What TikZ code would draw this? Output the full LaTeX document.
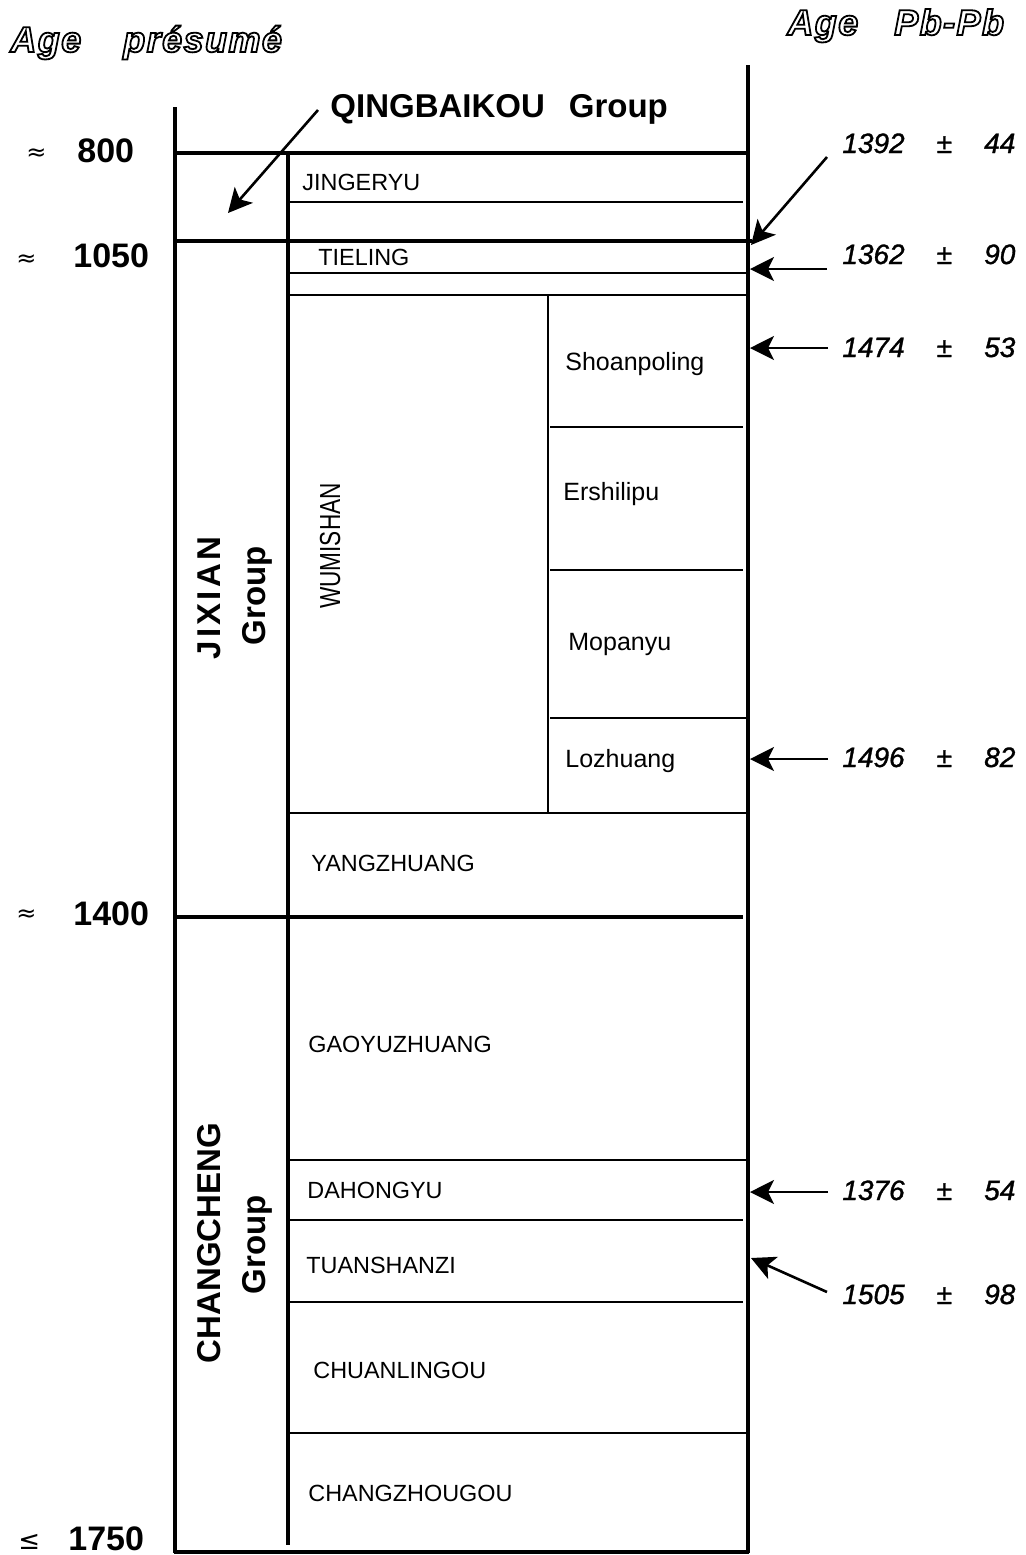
\documentclass[tikz,border=0pt]{standalone}
\usepackage{fontspec}
\setmainfont{Liberation Sans}
\newfontfamily\symfont{DejaVu Sans}
\newfontfamily\numfont{Liberation Sans Italic}[FakeBold=1.2]
\newfontfamily\outfont{Liberation Sans Bold Italic}[FakeBold=5,LetterSpace=4]
\usepackage{graphicx}
\usetikzlibrary{arrows.meta}
\tikzset{
  thickline/.style={line width=2.4pt},
  thinline/.style={line width=1.4pt},
  outerline/.style={line width=2.3pt},
  arr/.style={line width=1.3pt,-{Stealth[length=12pt,width=12pt,inset=3pt]}},
  lbl/.style={inner sep=0pt,anchor=base west,font=\fontsize{11.7}{14}\selectfont},
  lowlbl/.style={inner sep=0pt,anchor=base west,font=\fontsize{12.5}{14}\selectfont},
  agelbl/.style={inner sep=0pt,anchor=base west,font=\fontsize{17}{20}\selectfont\bfseries},
  approxlbl/.style={inner sep=0pt,anchor=base west,font=\fontsize{12}{14}\selectfont\symfont},
  numlbl/.style={inner sep=0pt,anchor=base west,font=\fontsize{14}{16}\selectfont\numfont},
  grplbl/.style={inner sep=0pt,anchor=base,rotate=90,font=\fontsize{16.5}{20}\selectfont\bfseries},
  headlbl/.style={inner sep=0pt,anchor=base west,font=\fontsize{18}{22}\selectfont\outfont},
}
\newcommand{\outl}[1]{\special{pdf:bcolor [1] [0]}#1\special{pdf:ecolor}}
\begin{document}
\begin{tikzpicture}[x=0.5pt,y=-0.5pt]
\useasboundingbox (0,0) rectangle (1025,1555);

% headers
\node[headlbl] (hleft) at (10,52) {\outl{Age\hspace{21pt}présumé}};
\node[headlbl] (hright) at (787,35) {\outl{Age\hspace{18pt}Pb-Pb}};

% frame
\draw[outerline] (175,107) -- (175,1553);
\draw[outerline] (748,65) -- (748,1553);
\draw[outerline] (174,1552) -- (749,1552);
\draw[thinline, line width=1.6pt] (288,153) -- (288,1545);
\draw[thinline, line width=1.1pt] (548,295) -- (548,812);

% thick boundaries
\draw[thickline] (175,153) -- (748,153);
\draw[thickline] (175,241) -- (752,241);
\draw[thickline] (175,917) -- (743,917);

% thin boundaries
\draw[thinline] (290,202) -- (743,202);
\draw[thinline] (288,273) -- (748,273);
\draw[thinline] (288,295) -- (748,295);
\draw[thinline] (550,427) -- (743,427);
\draw[thinline] (550,570) -- (743,570);
\draw[thinline] (550,718) -- (746,718);
\draw[thinline] (288,813) -- (748,813);
\draw[thinline] (288,1160) -- (748,1160);
\draw[thinline] (290,1220) -- (743,1220);
\draw[thinline] (290,1302) -- (743,1302);
\draw[thinline] (288,1433) -- (748,1433);

% ages left
\node[approxlbl] (ap800) at (26,160) {≈};
\node[agelbl] (g800) at (77,162) {800};
\node[approxlbl] (ap1050) at (16,266) {≈};
\node[agelbl] (g1050) at (73,267) {1050};
\node[approxlbl] (ap1400) at (16,921) {≈};
\node[agelbl] (g1400) at (73,925) {1400};
\node[approxlbl, font=\fontsize{13}{14}\selectfont\symfont] (le1750) at (18,1549) {≤};
\node[agelbl] (g1750) at (68,1550) {1750};

% group labels
\node[agelbl, font=\fontsize{16.5}{20}\selectfont\bfseries] (qing) at (330,117) {QINGBAIKOU\hspace{12pt}Group};
\node[grplbl, font=\fontsize{16.5}{20}\selectfont\bfseries\addfontfeatures{LetterSpace=10}] (jix) at (220,598) {JIXIAN};
\node[grplbl] (jixg) at (265,596) {Group};
\node[grplbl] (chc) at (220,1243) {CHANGCHENG};
\node[grplbl] (chcg) at (265,1245) {Group};
\node[inner sep=0pt,anchor=base,rotate=90,font=\fontsize{14.5}{16}\selectfont] (wum) at (340,546) {\scalebox{0.78}[1]{WUMISHAN}};

% formation labels
\node[lbl] (jing) at (302,190) {JINGERYU};
\node[lbl] (tiel) at (318,265) {TIELING};
\node[lowlbl] (shoa) at (565,370) {Shoanpoling};
\node[lowlbl] (ersh) at (563,500) {Ershilipu};
\node[lowlbl] (mopa) at (568,650) {Mopanyu};
\node[lowlbl] (lozh) at (565,767) {Lozhuang};
\node[lbl] (yang) at (311,871) {YANGZHUANG};
\node[lbl] (gaoy) at (308,1052) {GAOYUZHUANG};
\node[lbl] (daho) at (307,1198) {DAHONGYU};
\node[lbl] (tuan) at (306,1273) {TUANSHANZI};
\node[lbl] (chua) at (313,1378) {CHUANLINGOU};
\node[lbl] (chan) at (308,1501) {CHANGZHOUGOU};

% Pb-Pb ages
\node[numlbl] (n1392) at (842,153) {\hbox to 86.5pt{1392\hfil ±\hfil 44}};
\node[numlbl] (n1362) at (842,264) {\hbox to 86.5pt{1362\hfil ±\hfil 90}};
\node[numlbl] (n1474) at (842,357) {\hbox to 86.5pt{1474\hfil ±\hfil 53}};
\node[numlbl] (n1496) at (842,767) {\hbox to 86.5pt{1496\hfil ±\hfil 82}};
\node[numlbl] (n1376) at (842,1200) {\hbox to 86.5pt{1376\hfil ±\hfil 54}};
\node[numlbl] (n1505) at (842,1304) {\hbox to 86.5pt{1505\hfil ±\hfil 98}};

% arrows
\coordinate (qs) at (318,110);
\coordinate (qe) at (228,213);
\draw[arr] (qs) -- (qe);
\coordinate (s1392) at (827,157);
\coordinate (e1392) at (751,245);
\draw[arr] (s1392) -- (e1392);
\coordinate (s1362) at (827,269);
\coordinate (e1362) at (750,269);
\draw[arr] (s1362) -- (e1362);
\coordinate (s1474) at (828,348);
\coordinate (e1474) at (750,348);
\draw[arr] (s1474) -- (e1474);
\coordinate (s1496) at (828,759);
\coordinate (e1496) at (750,759);
\draw[arr] (s1496) -- (e1496);
\coordinate (s1376) at (828,1192);
\coordinate (e1376) at (750,1192);
\draw[arr] (s1376) -- (e1376);
\coordinate (s1505) at (827,1292);
\coordinate (e1505) at (751,1258);
\draw[arr] (s1505) -- (e1505);
\end{tikzpicture}
\end{document}
